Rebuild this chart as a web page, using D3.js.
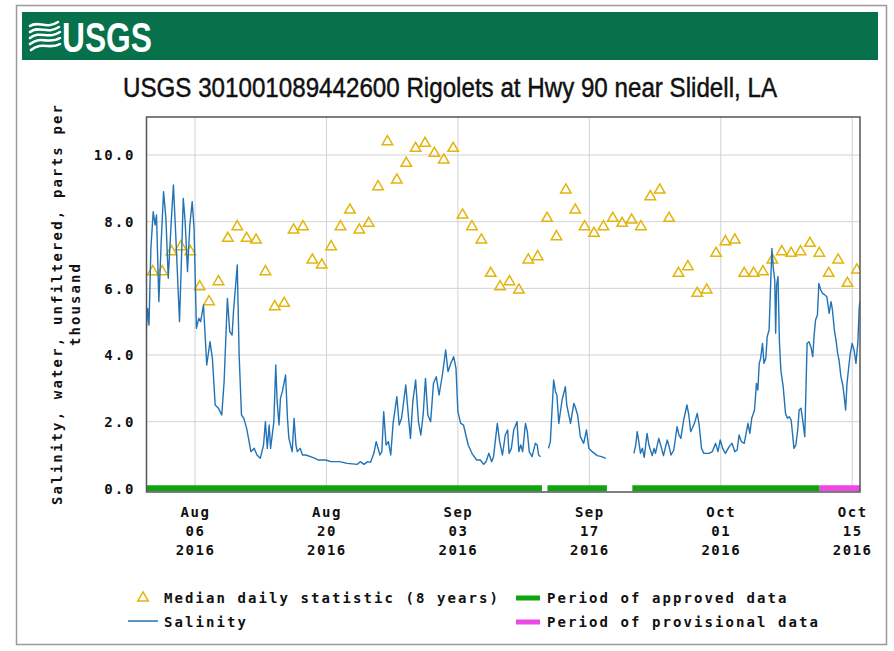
<!DOCTYPE html>
<html>
<head>
<meta charset="utf-8">
<script src="https://cdn.jsdelivr.net/npm/d3@7"></script>
<style>
  body { margin: 0; background: #fff; }
  svg { display: block; }
</style>
</head>
<body>
<svg id="chart" width="894" height="651"></svg>
<script>
// ---- data -------------------------------------------------------------
const chartTitle = "USGS 301001089442600 Rigolets at Hwy 90 near Slidell, LA";
const yLabelLines = ["Salinity, water, unfiltered, parts per", "thousand"];
const yTicks = [0, 2, 4, 6, 8, 10];
const xTickDates = ["2016-08-06", "2016-08-20", "2016-09-03", "2016-09-17", "2016-10-01", "2016-10-15"];

// median daily statistic (8 years), one value per day from 2016-08-01
const medianStart = "2016-08-01";
const medianValues = [
  6.5, 6.5, 7.1, 7.25, 7.1, 6.05, 5.6, 6.2, 7.5, 7.85, 7.5, 7.45, 6.5, 5.45, 5.55, 7.75,
  7.85, 6.85, 6.7, 7.25, 7.85, 8.35, 7.75, 7.95, 9.05, 10.4, 9.25, 9.75, 10.2, 10.35, 10.05,
  9.85, 10.2, 8.2, 7.85, 7.45, 6.45, 6.05, 6.2, 5.95, 6.85, 6.95, 8.1, 7.55, 8.95, 8.35,
  7.85, 7.65, 7.85, 8.1, 7.95, 8.05, 7.85, 8.75, 8.95, 8.1, 6.45, 6.65, 5.85, 5.95, 7.05,
  7.4, 7.45, 6.45, 6.45, 6.5, 6.85, 7.1, 7.05, 7.1, 7.35, 7.05, 6.45, 6.85, 6.15, 6.55
];

// salinity readings: [days after 2016-08-01 00:00, ppt]; null marks a gap in the record
const salinityStart = "2016-08-01";
const salinityReadings = [
  [-0.2,4.7],[-0.05,5.4],[0.1,4.9],[0.3,7.2],[0.55,8.3],[0.75,7.9],[0.9,8.2],[1.15,5.6],[1.4,7.4],
  [1.65,8.9],[1.9,8.1],[2.15,6.3],[2.45,7.9],[2.7,9.1],[2.95,7.6],[3.35,5.0],[3.55,6.8],[3.75,8.7],
  [3.95,8.0],[4.2,6.5],[4.45,7.9],[4.7,8.6],[4.9,7.8],[5.15,4.8],[5.4,5.1],[5.6,5.0],[5.9,5.5],
  [6.25,3.7],[6.6,4.4],[6.85,3.9],[7.15,2.5],[7.5,2.4],[7.85,2.2],[8.1,3.2],[8.45,5.7],[8.7,4.7],
  [8.95,4.6],[9.1,5.3],[9.5,6.7],[9.7,4.0],[9.95,2.2],[10.2,2.1],[10.5,1.8],[10.7,1.5],[10.95,1.1],
  [11.3,1.2],[11.6,1.0],[11.95,0.9],[12.3,1.3],[12.5,2.0],[12.7,1.2],[12.9,1.9],[13.05,1.2],
  [13.4,2.0],[13.6,3.7],[13.75,2.6],[13.95,1.9],[14.1,2.7],[14.3,2.9],[14.65,3.4],[14.85,2.1],
  [15.0,1.5],[15.35,1.1],[15.55,2.1],[15.75,1.3],[15.9,1.1],[16.2,1.2],[16.45,1.0],[16.8,1.0],
  [17.3,0.95],[17.8,0.9],[18.1,0.85],[18.9,0.85],[19.5,0.8],[20.4,0.8],[21.2,0.75],[22.3,0.72],
  [22.6,0.8],[23.0,0.72],[23.4,0.8],[23.7,0.78],[24.05,1.05],[24.3,1.4],[24.7,1.0],[24.9,1.1],
  [25.1,2.3],[25.35,1.3],[25.6,1.4],[25.85,1.0],[26.1,1.95],[26.5,2.75],[26.75,1.9],[27.0,2.1],
  [27.45,3.1],[27.75,2.1],[27.95,1.5],[28.2,2.6],[28.5,3.25],[28.8,2.0],[29.05,1.6],[29.3,2.2],
  [29.55,3.3],[29.8,2.2],[30.1,2.0],[30.4,3.15],[30.7,3.35],[31.0,2.8],[31.35,3.4],[31.7,4.15],
  [31.95,3.5],[32.25,3.75],[32.55,3.95],[32.8,3.6],[33.0,2.3],[33.3,1.95],[33.6,1.9],[34.1,1.3],
  [34.5,1.05],[35.0,0.85],[35.4,0.85],[35.75,0.72],[36.0,0.8],[36.3,1.05],[36.6,0.8],[36.8,0.95],
  [37.2,1.95],[37.45,1.4],[37.75,1.0],[38.05,1.6],[38.3,1.75],[38.45,1.05],[38.7,1.2],[38.95,1.75],
  [39.3,2.0],[39.5,1.1],[39.7,1.3],[39.9,1.1],[40.2,1.95],[40.4,1.7],[40.6,1.1],[40.9,0.95],
  [41.25,1.35],[41.45,1.3],[41.6,1.0],[41.8,0.95],[42.2,null],
  [42.65,1.2],[42.85,1.4],[43.2,3.25],[43.4,2.9],[43.55,2.8],[43.75,1.95],[44.1,2.65],[44.45,3.05],
  [44.6,2.5],[45.0,1.95],[45.35,2.55],[45.55,2.4],[45.75,2.2],[46.05,1.55],[46.4,1.35],[46.7,1.75],
  [46.95,1.2],[47.3,1.1],[47.85,0.98],[48.3,0.95],[48.75,0.9],[50.2,null],
  [51.75,1.05],[51.95,1.3],[52.1,1.7],[52.25,1.45],[52.45,1.05],[52.65,1.2],[52.85,0.93],[53.15,1.65],
  [53.35,1.3],[53.7,0.98],[53.9,1.2],[54.05,1.05],[54.4,1.5],[54.6,1.3],[54.9,0.98],[55.3,1.45],
  [55.5,1.25],[55.7,1.0],[56.0,1.15],[56.35,1.85],[56.55,1.6],[56.75,1.5],[57.05,2.05],[57.4,2.5],
  [57.6,2.2],[57.8,1.7],[58.2,1.95],[58.5,2.25],[58.7,1.9],[58.95,1.2],[59.2,1.05],[59.75,1.05],
  [60.1,1.1],[60.45,1.35],[60.7,1.1],[60.95,1.45],[61.2,1.2],[61.5,1.05],[61.9,1.25],[62.2,1.35],
  [62.5,1.1],[62.75,1.15],[62.95,1.6],[63.2,1.4],[63.5,1.35],[63.9,1.95],[64.1,1.65],[64.3,2.1],
  [64.6,2.35],[64.8,3.15],[64.95,2.95],[65.1,3.75],[65.25,3.9],[65.45,4.35],[65.6,3.75],[65.8,3.9],
  [65.95,4.55],[66.15,4.75],[66.3,6.0],[66.45,7.2],[66.6,6.6],[66.75,6.25],[66.85,4.65],[66.95,6.1],
  [67.1,6.35],[67.25,4.4],[67.4,3.55],[67.65,3.05],[67.9,2.25],[68.1,2.1],[68.3,2.15],[68.5,2.05],
  [68.8,1.2],[69.0,1.3],[69.2,1.75],[69.35,2.35],[69.55,2.4],[69.75,2.0],[69.95,1.55],[70.2,4.35],
  [70.4,4.4],[70.6,4.25],[70.8,3.95],[70.95,4.6],[71.1,5.05],[71.3,5.2],[71.45,6.15],[71.65,5.95],
  [71.85,5.85],[72.1,5.8],[72.3,5.75],[72.55,5.25],[72.75,5.6],[72.9,5.35],[73.1,4.75],[73.3,4.4],
  [73.45,4.05],[73.6,3.85],[73.8,3.35],[74.0,3.1],[74.15,2.75],[74.3,2.35],[74.45,3.15],[74.6,3.55],
  [74.8,4.05],[75.0,4.35],[75.2,4.15],[75.4,3.75],[75.6,4.35],[75.75,5.4],[75.82,5.6]
];

// data-approval periods (local time)
const approvedPeriods = [
  ["2016-07-31T20:00", "2016-09-11T23:00"],
  ["2016-09-12T13:00", "2016-09-18T21:00"],
  ["2016-09-21T14:00", "2016-10-11T13:00"]
];
const provisionalPeriods = [
  ["2016-10-11T13:00", "2016-10-15T20:00"]
];

const legendItems = {
  median: "Median daily statistic (8 years)",
  salinity: "Salinity",
  approved: "Period of approved data",
  provisional: "Period of provisional data"
};

// ---- setup ------------------------------------------------------------
const W = 894, H = 651;
const svg = d3.select("#chart");
const monoFont = "'DejaVu Sans Mono', 'Liberation Mono', monospace";
const narrowFont = "'Liberation Sans Narrow', 'Arial Narrow', 'Liberation Sans', Arial, sans-serif";
const COLORS = {
  header: "#06714a",
  grid: "#d2d2d2",
  line: "#2273b6",
  median: "#e3b40a",
  approved: "#12a312",
  provisional: "#f046e4"
};

const parseLocal = s => {
  const [d, t] = s.split("T");
  const [Y, M, D] = d.split("-").map(Number);
  const [h, m] = (t || "00:00").split(":").map(Number);
  return new Date(Date.UTC(Y, M - 1, D, h, m));
};
const DAY = 864e5;
const addDays = (s, n) => new Date(parseLocal(s).getTime() + n * DAY);

const plot = { left: 146.5, right: 860, top: 117, bottom: 492 };

const x = d3.scaleUtc()
  .domain([parseLocal("2016-07-31T20:00"), parseLocal("2016-10-15T20:00")])
  .range([plot.left, plot.right]);
const y = d3.scaleLinear()
  .domain([-0.11, 11.14])
  .range([plot.bottom, plot.top]);

// ---- frame and header -------------------------------------------------
svg.append("rect").attr("width", W).attr("height", H).attr("fill", "#fff");
svg.append("rect")
  .attr("x", 16.5).attr("y", 5.5).attr("width", 870).attr("height", 639)
  .attr("fill", "none").attr("stroke", "#9a9a9a").attr("stroke-width", 1.5);

svg.append("rect")
  .attr("x", 22).attr("y", 12).attr("width", 856).attr("height", 48)
  .attr("fill", COLORS.header);

// USGS wave mark
const logo = svg.append("g").attr("fill", "none").attr("stroke", "#fff").attr("stroke-linecap", "round");
[
  "M30,26 C38,20 46,30 58,22",
  "M30,32 C39,25 47,35 59,27",
  "M30,38 C40,30 48,40 60,32",
  "M30,44 C41,35 49,45 60,38",
  "M31,50 C42,41 50,50 60,44"
].forEach(p => logo.append("path").attr("d", p).attr("stroke-width", 2.6));

svg.append("text")
  .attr("x", 62).attr("y", 52)
  .attr("font-family", narrowFont)
  .attr("font-weight", "bold").attr("font-size", 42)
  .attr("fill", "#fff")
  .attr("textLength", 90).attr("lengthAdjust", "spacingAndGlyphs")
  .text("USGS");

// title
svg.append("text")
  .attr("x", 450).attr("y", 97)
  .attr("text-anchor", "middle")
  .attr("font-family", narrowFont)
  .attr("font-size", 27).attr("fill", "#111")
  .attr("stroke", "#111").attr("stroke-width", 0.45)
  .attr("textLength", 654).attr("lengthAdjust", "spacingAndGlyphs")
  .text(chartTitle);

// ---- grid -------------------------------------------------------------
const grid = svg.append("g");
grid.selectAll("line.h").data(yTicks.filter(v => v > 0)).join("line")
  .attr("x1", plot.left).attr("x2", plot.right)
  .attr("y1", d => y(d)).attr("y2", d => y(d))
  .attr("stroke", COLORS.grid).attr("stroke-width", 1);
grid.selectAll("line.v").data(xTickDates).join("line")
  .attr("x1", d => x(parseLocal(d))).attr("x2", d => x(parseLocal(d)))
  .attr("y1", plot.top).attr("y2", plot.bottom)
  .attr("stroke", COLORS.grid).attr("stroke-width", 1);

// ---- axes -------------------------------------------------------------
const yAxis = svg.append("g")
  .attr("transform", `translate(${plot.left},0)`)
  .call(d3.axisLeft(y).tickValues(yTicks).tickFormat(d3.format(".1f")).tickSize(0).tickPadding(11));
yAxis.select(".domain").remove();
yAxis.selectAll("text")
  .attr("font-family", monoFont).attr("font-weight", "bold").attr("font-size", 14)
  .attr("letter-spacing", "2px").attr("fill", "#111").attr("dy", "0.35em");

const fmtMon = d3.utcFormat("%b"), fmtDay = d3.utcFormat("%d"), fmtYear = d3.utcFormat("%Y");
const xAxis = svg.append("g")
  .attr("transform", `translate(0,${plot.bottom})`)
  .call(d3.axisBottom(x).tickValues(xTickDates.map(parseLocal)).tickSize(0).tickFormat(""));
xAxis.select(".domain").remove();
xAxis.selectAll(".tick").each(function (d) {
  const t = d3.select(this).append("text")
    .attr("text-anchor", "middle")
    .attr("font-family", monoFont).attr("font-weight", "bold").attr("font-size", 14)
    .attr("letter-spacing", "1.5px").attr("fill", "#111");
  [fmtMon(d), fmtDay(d), fmtYear(d)].forEach((s, i) => {
    t.append("tspan").attr("x", 0).attr("y", 25 + i * 19).text(s);
  });
});

// y-axis title
const yTitle = svg.append("text")
  .attr("transform", "translate(0,305) rotate(-90)")
  .attr("text-anchor", "middle")
  .attr("font-family", monoFont).attr("font-weight", "bold").attr("font-size", 14)
  .attr("fill", "#111");
yTitle.append("tspan").attr("x", 0).attr("y", 62)
  .attr("textLength", 400).attr("lengthAdjust", "spacing").text(yLabelLines[0]);
yTitle.append("tspan").attr("x", 0).attr("y", 80)
  .attr("textLength", 82).attr("lengthAdjust", "spacing").text(yLabelLines[1]);

// ---- marks ------------------------------------------------------------
svg.append("clipPath").attr("id", "plot-clip")
  .append("rect").attr("x", plot.left).attr("y", plot.top)
  .attr("width", plot.right - plot.left).attr("height", plot.bottom - plot.top);

const marks = svg.append("g").attr("clip-path", "url(#plot-clip)");

// median triangles at noon of each day
const medianData = medianValues.map((v, i) => ({ t: addDays(medianStart, i + 0.5), v }));
const tri = d3.symbol().type(d3.symbolTriangle).size(48);
marks.selectAll("path.median").data(medianData).join("path")
  .attr("class", "median")
  .attr("d", tri)
  .attr("transform", d => `translate(${x(d.t)},${y(d.v)})`)
  .attr("fill", "none").attr("stroke", COLORS.median).attr("stroke-width", 1.5);

// salinity line
const salData = salinityReadings.map(([d, v]) => ({ t: addDays(salinityStart, d), v }));
const line = d3.line()
  .defined(d => d.v !== null)
  .x(d => x(d.t)).y(d => y(d.v));
marks.append("path")
  .datum(salData)
  .attr("d", line)
  .attr("fill", "none").attr("stroke", COLORS.line).attr("stroke-width", 1.4)
  .attr("stroke-linejoin", "round");

// approval bars along zero
const barG = svg.append("g");
const drawPeriods = (periods, color) => {
  barG.selectAll(null).data(periods).join("line")
    .attr("x1", d => Math.max(plot.left, x(parseLocal(d[0]))))
    .attr("x2", d => Math.min(plot.right, x(parseLocal(d[1]))))
    .attr("y1", y(0)).attr("y2", y(0))
    .attr("stroke", color).attr("stroke-width", 6);
};
drawPeriods(approvedPeriods, COLORS.approved);
drawPeriods(provisionalPeriods, COLORS.provisional);

// plot frame
svg.append("rect")
  .attr("x", plot.left).attr("y", plot.top)
  .attr("width", plot.right - plot.left).attr("height", plot.bottom - plot.top)
  .attr("fill", "none").attr("stroke", "#555").attr("stroke-width", 1.5);

// ---- legend -----------------------------------------------------------
const leg = svg.append("g")
  .attr("font-family", monoFont).attr("font-weight", "bold").attr("font-size", 14)
  .attr("letter-spacing", "2.07px").attr("fill", "#111");

leg.append("path").attr("d", tri)
  .attr("transform", "translate(143,598)")
  .attr("fill", "none").attr("stroke", COLORS.median).attr("stroke-width", 1.5);
leg.append("text").attr("x", 164).attr("y", 603).text(legendItems.median);

leg.append("line").attr("x1", 128).attr("x2", 158).attr("y1", 621).attr("y2", 621)
  .attr("stroke", COLORS.line).attr("stroke-width", 1.5);
leg.append("text").attr("x", 164).attr("y", 627).text(legendItems.salinity);

leg.append("line").attr("x1", 516).attr("x2", 540).attr("y1", 598).attr("y2", 598)
  .attr("stroke", COLORS.approved).attr("stroke-width", 5);
leg.append("text").attr("x", 547).attr("y", 603).text(legendItems.approved);

leg.append("line").attr("x1", 516).attr("x2", 540).attr("y1", 622).attr("y2", 622)
  .attr("stroke", COLORS.provisional).attr("stroke-width", 5);
leg.append("text").attr("x", 547).attr("y", 627).text(legendItems.provisional);
</script>
</body>
</html>
